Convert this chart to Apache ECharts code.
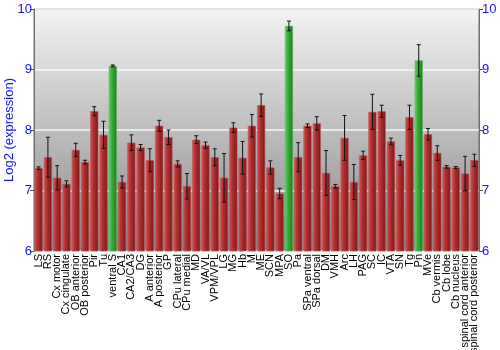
<!DOCTYPE html>
<html>
<head>
<meta charset="utf-8">
<script src="https://cdn.jsdelivr.net/npm/echarts@6/dist/echarts.min.js"></script>
<style>html,body{margin:0;padding:0;background:#fff}#c{width:500px;height:350px}</style>
</head>
<body>
<div id="c"></div>
<script>
// Brain regions along the x axis
var regions = ['LS','RS','Cx motor','Cx cingulate','OB anterior','OB posterior','Pir','Tu','ventral S','CA1','CA2/CA3','DG','A anterior','A posterior','GP','CPu lateral','CPu medial','MD','VA/VL','VPM/VPL','LG','MG','Hb','M','ME','SCN','MPA','SO','Pa','SPa ventral','SPa dorsal','DM','VMH','Arc','LH','PAG','SC','IC','VTA','SN','Tg','Pn','MVe','Cb vermis','Cb lobe','Cb nucleus','spinal cord anterior','spinal cord posterior'];
// Mean log2 expression per region
var meanExpr = [7.37,7.55,7.21,7.11,7.67,7.47,8.31,7.92,9.06,7.14,7.79,7.71,7.50,8.07,7.88,7.44,7.07,7.84,7.75,7.55,7.21,8.04,7.54,8.07,8.41,7.38,6.95,9.72,7.55,8.07,8.11,7.29,7.07,7.87,7.14,7.58,8.30,8.31,7.81,7.50,8.21,9.15,7.93,7.62,7.39,7.38,7.28,7.50];
// Error (± half-range) per region
var errExpr = [0.02,0.33,0.20,0.05,0.11,0.03,0.075,0.225,0.015,0.10,0.13,0.05,0.19,0.09,0.12,0.05,0.21,0.065,0.05,0.14,0.40,0.08,0.27,0.185,0.185,0.11,0.085,0.08,0.24,0.03,0.11,0.37,0.03,0.37,0.29,0.07,0.29,0.10,0.055,0.08,0.20,0.26,0.095,0.12,0.02,0.015,0.285,0.10];
// Highlighted regions
var highlighted = ['ventral S','SO','Pn'];
var yTicks = [6,7,8,9,10];

function grad(c0, c1, c2) {
  return new echarts.graphic.LinearGradient(0, 0, 1, 0, [
    {offset: 0, color: c0}, {offset: 0.35, color: c1}, {offset: 1, color: c2}
  ]);
}
var redFill = grad('#cf5a5a', '#b33232', '#7e1616');
var greenFill = grad('#6fd46f', '#3aae3a', '#1f7a1f');

var barData = meanExpr.map(function (v, i) {
  var hi = highlighted.indexOf(regions[i]) >= 0;
  return {value: v, itemStyle: {color: hi ? greenFill : redFill, borderColor: hi ? '#4fbf4f' : '#c05050', borderWidth: 0.6}};
});
var errData = meanExpr.map(function (v, i) { return [i, v - errExpr[i], v + errExpr[i]]; });

var blue = '#1414ff';
var chart = echarts.init(document.getElementById('c'), null, {renderer: 'canvas'});
chart.setOption({
  animation: false,
  grid: {
    left: 34, right: 21, top: 9, bottom: 99, show: true,
    containLabel: false, outerBoundsMode: 'none',
    backgroundColor: new echarts.graphic.LinearGradient(0, 0, 0, 1, [
      {offset: 0, color: '#f3f3f3'}, {offset: 1, color: '#878787'}
    ]),
    borderColor: '#707070', borderWidth: 1
  },
  xAxis: {
    type: 'category', data: regions,
    axisLine: {show: false}, axisTick: {show: false},
    axisLabel: {interval: 0, rotate: 90, fontSize: 11, color: '#000', fontFamily: 'Liberation Sans, Arial', margin: 3}
  },
  yAxis: [{
    type: 'value', min: yTicks[0], max: yTicks[yTicks.length - 1], interval: 1, position: 'left',
    name: 'Log2 (expression)', nameLocation: 'middle', nameGap: 18, nameRotate: 90,
    nameMoveOverlap: false,
    nameTextStyle: {color: blue, fontSize: 13, fontFamily: 'Liberation Sans, Arial'},
    axisLine: {show: true, lineStyle: {color: '#707070'}},
    axisTick: {show: true, length: 4, lineStyle: {color: '#556'}},
    axisLabel: {color: blue, fontSize: 13, fontFamily: 'Liberation Sans, Arial', margin: 2},
    splitLine: {show: true, lineStyle: {color: 'rgba(255,255,255,0.85)', width: 1.5}}
  }, {
    type: 'value', min: yTicks[0], max: yTicks[yTicks.length - 1], interval: 1, position: 'right',
    axisLine: {show: true, lineStyle: {color: '#707070'}},
    axisTick: {show: true, length: 4, lineStyle: {color: '#556'}},
    axisLabel: {color: blue, fontSize: 13, fontFamily: 'Liberation Sans, Arial', margin: 3},
    splitLine: {show: false}
  }],
  series: [{
    type: 'bar', data: barData, barCategoryGap: '13%'
  }, {
    type: 'custom', data: errData,
    renderItem: function (params, api) {
      var x = api.value(0);
      var lo = api.coord([x, api.value(1)]);
      var hi = api.coord([x, api.value(2)]);
      var w = 2;
      var st = {stroke: '#111', lineWidth: 1};
      return {type: 'group', children: [
        {type: 'line', shape: {x1: lo[0], y1: lo[1], x2: hi[0], y2: hi[1]}, style: st},
        {type: 'line', shape: {x1: lo[0] - w, y1: lo[1], x2: lo[0] + w, y2: lo[1]}, style: st},
        {type: 'line', shape: {x1: hi[0] - w, y1: hi[1], x2: hi[0] + w, y2: hi[1]}, style: st}
      ]};
    },
    z: 5
  }]
});
</script>
</body>
</html>
